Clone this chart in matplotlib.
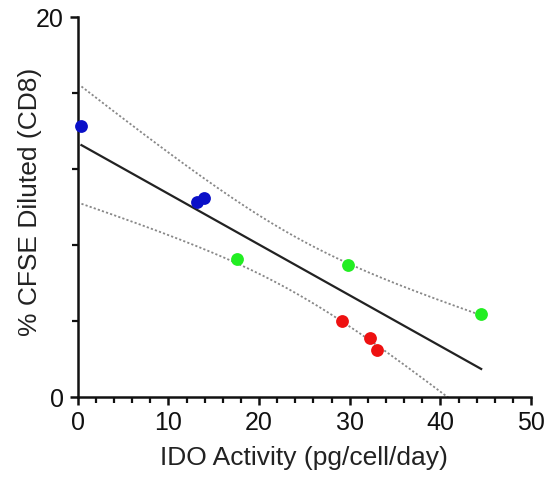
import numpy as np
import matplotlib
matplotlib.use("Agg")
import matplotlib.pyplot as plt
from matplotlib.ticker import MultipleLocator, FixedLocator

plt.rcParams['font.family'] = ['Liberation Sans', 'DejaVu Sans']

# IDO activity (pg/cell/day) vs % CFSE diluted CD8 cells, by group
blue_x = [0.4, 13.1, 13.9]
blue_y = [14.3, 10.3, 10.5]
green_x = [17.6, 29.85, 44.5]
green_y = [7.25, 6.95, 4.4]
red_x = [29.1, 32.2, 33.0]
red_y = [4.0, 3.1, 2.5]

x_ticks = [0, 10, 20, 30, 40, 50]
y_ticks = [0, 20]

x_all = np.array(blue_x + green_x + red_x)
y_all = np.array(blue_y + green_y + red_y)

# Linear regression with 95% confidence band
n = len(x_all)
slope, intercept = np.polyfit(x_all, y_all, 1)
resid = y_all - (slope * x_all + intercept)
s = np.sqrt(np.sum(resid ** 2) / (n - 2))
sxx = np.sum((x_all - x_all.mean()) ** 2)
t_crit = 2.3646  # t(0.975, df=7)
xf = np.linspace(x_all.min(), x_all.max(), 200)
yf = slope * xf + intercept
half = t_crit * s * np.sqrt(1.0 / n + (xf - x_all.mean()) ** 2 / sxx)

fig = plt.figure(figsize=(5.52, 4.78), dpi=100)
ax = fig.add_axes([0.141, 0.169, 0.821, 0.795])

ax.plot(xf, yf, color='#222222', lw=1.6, zorder=2)
ax.plot(xf, yf + half, color='#888888', lw=1.3, ls=(0, (1.2, 1.2)), zorder=2)
ax.plot(xf, yf - half, color='#888888', lw=1.3, ls=(0, (1.2, 1.2)), zorder=2)

ms = 85
ax.scatter(blue_x, blue_y, s=ms, color='#0a10c8', zorder=3, clip_on=False, lw=0)
ax.scatter(green_x, green_y, s=ms, color='#22ee22', zorder=3, clip_on=False, lw=0)
ax.scatter(red_x, red_y, s=ms, color='#ee1111', zorder=3, clip_on=False, lw=0)

ax.set_xlim(0, 50)
ax.set_ylim(0, 20)
ax.set_xticks(x_ticks)
ax.set_yticks(y_ticks)
ax.xaxis.set_minor_locator(MultipleLocator(2))
ax.yaxis.set_minor_locator(FixedLocator([4, 8, 12, 16]))

for side in ['top', 'right']:
    ax.spines[side].set_visible(False)
for side in ['left', 'bottom']:
    ax.spines[side].set_linewidth(1.8)
    ax.spines[side].set_color('#111111')

ax.tick_params(which='major', length=6, width=1.8, direction='out',
               labelsize=18, colors='#111111', pad=4)
ax.tick_params(which='minor', length=4, width=1.6, direction='out', colors='#111111')

ax.set_xlabel('IDO Activity (pg/cell/day)', fontsize=19, color='#222222', labelpad=8)
ax.set_ylabel('% CFSE Diluted (CD8)', fontsize=19, color='#222222')
ax.yaxis.set_label_coords(-0.08, 0.515)

fig.savefig('out.png', dpi=100, facecolor='white')
